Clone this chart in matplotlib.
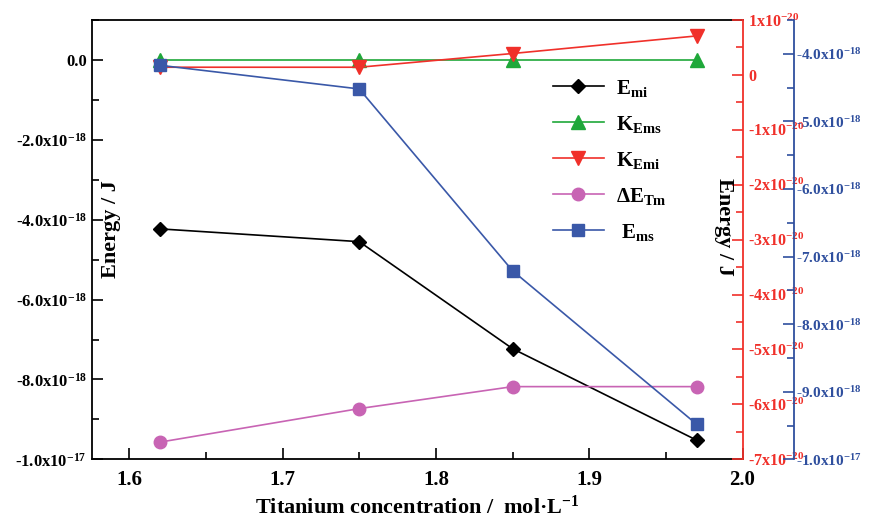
import matplotlib
matplotlib.use("Agg")
import matplotlib.pyplot as plt
from matplotlib.ticker import MultipleLocator, FixedLocator, FixedFormatter

plt.rcParams['font.family'] = ['Liberation Serif', 'DejaVu Serif']
plt.rcParams['font.weight'] = 'bold'
plt.rcParams['mathtext.fontset'] = 'custom'
plt.rcParams['mathtext.rm'] = 'Liberation Serif:bold'
plt.rcParams['mathtext.it'] = 'Liberation Serif:italic:bold'
plt.rcParams['mathtext.bf'] = 'Liberation Serif:bold'

# ---- data ----
x = [1.62, 1.75, 1.85, 1.97]
e_mi = [-4.23e-18, -4.55e-18, -7.23e-18, -9.52e-18]       # left axis
k_ems = [0.0, 0.0, 0.0, 0.0]                              # left axis
de_tm = [-9.57e-18, -8.73e-18, -8.18e-18, -8.18e-18]      # left axis
k_emi = [0.14e-20, 0.14e-20, 0.39e-20, 0.71e-20]          # red axis
e_ms = [-4.17e-18, -4.52e-18, -7.21e-18, -9.48e-18]       # blue axis

x_ticks = [1.6, 1.7, 1.8, 1.9, 2.0]
x_labels = ['1.6', '1.7', '1.8', '1.9', '2.0']
left_ticks = [0.0, -2e-18, -4e-18, -6e-18, -8e-18, -1e-17]
left_labels = ['0.0', '-2.0x10$^{-18}$', '-4.0x10$^{-18}$', '-6.0x10$^{-18}$',
               '-8.0x10$^{-18}$', '-1.0x10$^{-17}$']
red_ticks = [1e-20, 0, -1e-20, -2e-20, -3e-20, -4e-20, -5e-20, -6e-20, -7e-20]
red_labels = ['1x10$^{-20}$', '0', '-1x10$^{-20}$', '-2x10$^{-20}$', '-3x10$^{-20}$',
              '-4x10$^{-20}$', '-5x10$^{-20}$', '-6x10$^{-20}$', '-7x10$^{-20}$']
blue_ticks = [-4e-18, -5e-18, -6e-18, -7e-18, -8e-18, -9e-18, -1e-17]
blue_labels = ['-4.0x10$^{-18}$', '-5.0x10$^{-18}$', '-6.0x10$^{-18}$', '-7.0x10$^{-18}$',
               '-8.0x10$^{-18}$', '-9.0x10$^{-18}$', '-1.0x10$^{-17}$']

c_black = '#000000'
c_green = '#1fa83a'
c_red = '#f0302a'
c_mag = '#c864b4'
c_blue = '#3a58a8'
c_bluax = '#2f4f9e'

fig = plt.figure(figsize=(8.69, 5.21), dpi=100)
ax = fig.add_axes([0.1055, 0.1184, 0.749, 0.8432])
ax2 = ax.twinx()
ax3 = ax.twinx()
ax3.spines['right'].set_position(('outward', 36.7))

lw = 1.2
l1, = ax.plot(x, e_mi, color=c_black, marker='D', ms=7.5, lw=lw, label='E$_{\\mathrm{mi}}$')
l2, = ax.plot(x, k_ems, color=c_green, marker='^', ms=10, lw=lw, label='K$_{\\mathrm{Ems}}$')
l4, = ax.plot(x, de_tm, color=c_mag, marker='o', ms=9, lw=lw, label='ΔE$_{\\mathrm{Tm}}$')
l3, = ax2.plot(x, k_emi, color=c_red, marker='v', ms=10, lw=lw, label='K$_{\\mathrm{Emi}}$')
l5, = ax3.plot(x, e_ms, color=c_blue, marker='s', ms=8, lw=lw, label=' E$_{\\mathrm{ms}}$')

ax.set_xlim(1.5755, 2.0)
ax.set_ylim(-1e-17, 1e-18)
ax2.set_ylim(-7e-20, 1e-20)
ax3.set_ylim(-1e-17, -3.5e-18)

ax.xaxis.set_major_locator(FixedLocator(x_ticks))
ax.xaxis.set_major_formatter(FixedFormatter(x_labels))
ax.xaxis.set_minor_locator(MultipleLocator(0.05))
ax.yaxis.set_major_locator(FixedLocator(left_ticks))
ax.yaxis.set_major_formatter(FixedFormatter(left_labels))
ax.yaxis.set_minor_locator(MultipleLocator(1e-18))
ax2.yaxis.set_major_locator(FixedLocator(red_ticks))
ax2.yaxis.set_major_formatter(FixedFormatter(red_labels))
ax2.yaxis.set_minor_locator(MultipleLocator(0.5e-20))
ax3.yaxis.set_major_locator(FixedLocator(blue_ticks))
ax3.yaxis.set_major_formatter(FixedFormatter(blue_labels))
ax3.yaxis.set_minor_locator(MultipleLocator(0.5e-18))

for a in (ax, ax2, ax3):
    a.yaxis.get_offset_text().set_visible(False)

ax.tick_params(axis='x', which='both', direction='in', labelsize=15, pad=8)
ax.tick_params(axis='x', which='major', length=8, width=1.2)
ax.tick_params(axis='x', which='minor', length=5, width=1.2)
ax.tick_params(axis='y', which='both', direction='in', labelsize=12, width=1.2)
ax.tick_params(axis='y', which='major', length=8)
ax.tick_params(axis='y', which='minor', length=5)
ax2.tick_params(axis='y', which='both', direction='in', colors=c_red, labelsize=11.5, width=1.2, pad=4)
ax2.tick_params(axis='y', which='major', length=8)
ax2.tick_params(axis='y', which='minor', length=5)
ax3.tick_params(axis='y', which='both', direction='in', colors=c_bluax, labelsize=11, width=1.2, pad=2)
ax3.tick_params(axis='y', which='major', length=8)
ax3.tick_params(axis='y', which='minor', length=5)

for s in ('left', 'top', 'bottom'):
    ax.spines[s].set_linewidth(1.3)
ax.spines['right'].set_visible(False)
for s in ('left', 'top', 'bottom'):
    ax2.spines[s].set_visible(False)
    ax3.spines[s].set_visible(False)
ax2.spines['right'].set_color(c_red)
ax2.spines['right'].set_linewidth(1.3)
ax3.spines['right'].set_color(c_bluax)
ax3.spines['right'].set_linewidth(1.3)

ax.set_xlabel('Titanium concentration /  mol·L$^{-1}$', fontsize=16, fontweight='bold', labelpad=4)

fig.text(0.128, 0.56, 'Energy / J', rotation=90, fontsize=16, fontweight='bold',
         ha='center', va='center')
fig.text(0.833, 0.565, 'Energy / J', rotation=270, fontsize=16, fontweight='bold',
         ha='center', va='center')

leg = ax3.legend(handles=[l1, l2, l3, l4, l5], loc='upper left',
                 bbox_to_anchor=(0.6145, 0.887), bbox_transform=fig.transFigure,
                 frameon=False, fontsize=15, handlelength=2.45, labelspacing=0.72,
                 handletextpad=0.6)

fig.savefig('out.png', dpi=100)
